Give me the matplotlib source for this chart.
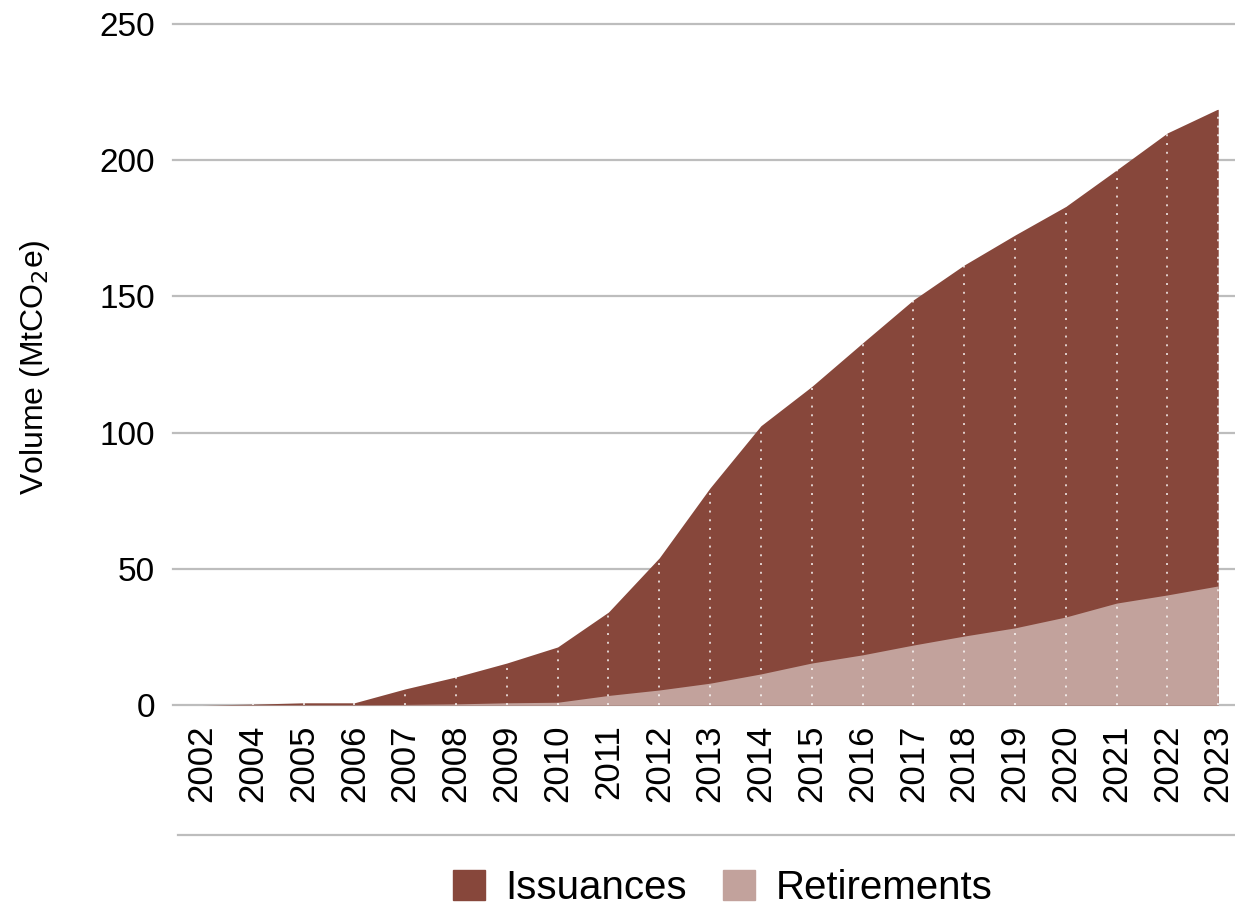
import numpy as np
import matplotlib.pyplot as plt
from matplotlib.lines import Line2D
from matplotlib.patches import Patch

years = ['2002', '2004', '2005', '2006', '2007', '2008', '2009', '2010', '2011', '2012',
         '2013', '2014', '2015', '2016', '2017', '2018', '2019', '2020', '2021', '2022', '2023']
issuances = [0, 0.3, 0.8, 0.8, 5.9, 10.3, 15.4, 21.3, 34.1, 54,
             79.7, 102.5, 116.9, 132.9, 148.7, 161.5, 172.5, 183, 196.4, 210, 218.8]
retirements = [0, 0, 0, 0, 0.2, 0.4, 0.8, 1.0, 3.5, 5.5,
               8, 11.4, 15.4, 18.4, 22, 25.3, 28.3, 32.3, 37.4, 40.4, 43.7]

plt.rcParams['font.family'] = ['Liberation Sans', 'DejaVu Sans']

c_iss = '#87473b'
c_ret = '#c2a29c'
c_grid = '#bdbdbd'

fig = plt.figure(figsize=(12.35, 9.1), dpi=100)
ax = fig.add_axes([0.140, 0.2253, 0.860, 0.7484])

x = np.arange(len(years))
ax.fill_between(x, 0, issuances, color=c_iss, lw=0, zorder=2)
ax.fill_between(x, 0, retirements, color=c_ret, lw=0, zorder=3)
ax.vlines(x[1:], 0, issuances[1:], colors='white', alpha=0.75, lw=1.4,
          linestyles=(0, (1, 3.5)), zorder=4)

for v in [0, 50, 100, 150, 200, 250]:
    ax.axhline(v, color=c_grid, lw=1.6, zorder=1, clip_on=False)

ax.set_xlim(-0.571, 20.33)
ax.set_ylim(0, 250)
ax.set_yticks([0, 50, 100, 150, 200, 250])
ax.set_xticks(x)
ax.set_xticklabels(years, rotation=90, fontsize=25)
ax.tick_params(axis='x', length=0, pad=14)
ax.tick_params(axis='y', length=0, pad=13, labelsize=24)
for s in ax.spines.values():
    s.set_visible(False)

fig.text(0.028, 0.597, 'Volume (MtCO$_2$e)', rotation=90, ha='center', va='center',
         fontsize=23)

fig.add_artist(Line2D([178 / 1235, 1.0], [1 - 835 / 910] * 2, color=c_grid, lw=1.6))

handles = [Patch(color=c_iss, label='Issuances'), Patch(color=c_ret, label='Retirements')]
fig.legend(handles=handles, loc='center', bbox_to_anchor=(0.585, 1 - 888 / 910),
           ncol=2, frameon=False, handlelength=0.8, handleheight=0.8,
           handletextpad=0.5, columnspacing=0.9, prop={'size': 29})

fig.savefig('out.png', dpi=100)
